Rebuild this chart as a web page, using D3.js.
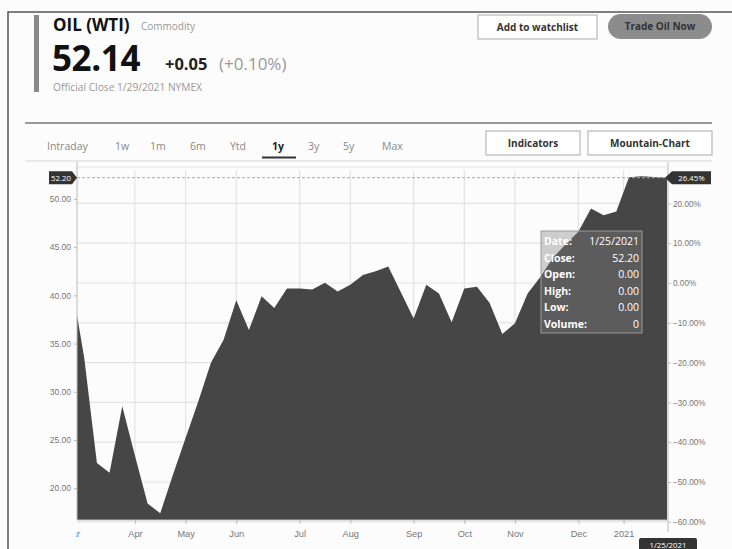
<!DOCTYPE html>
<html>
<head>
<meta charset="utf-8">
<script src="https://cdn.jsdelivr.net/npm/d3@7"></script>
<style>
  html, body { margin: 0; padding: 0; background: #fcfcfc; }
  svg { display: block; font-family: 'Open Sans', 'Noto Sans', sans-serif; }
  .axis text { fill: #777; }
  .axis path, .axis line { stroke: #bbb; }
</style>
</head>
<body>
<div class='container'></div>
<script>
// weekly closes
var weeks = [
  '2020-03-02','2020-03-09','2020-03-16','2020-03-23','2020-03-30',
  '2020-04-06','2020-04-13','2020-04-20','2020-04-27',
  '2020-05-04','2020-05-11','2020-05-18','2020-05-25',
  '2020-06-01','2020-06-08','2020-06-15','2020-06-22','2020-06-29',
  '2020-07-06','2020-07-13','2020-07-20','2020-07-27',
  '2020-08-03','2020-08-10','2020-08-17','2020-08-24','2020-08-31',
  '2020-09-07','2020-09-14','2020-09-21','2020-09-28',
  '2020-10-05','2020-10-12','2020-10-19','2020-10-26',
  '2020-11-02','2020-11-09','2020-11-16','2020-11-23','2020-11-30',
  '2020-12-07','2020-12-14','2020-12-21','2020-12-28',
  '2021-01-04','2021-01-11','2021-01-18','2021-01-25'
]
var closes = [
  41.28, 33.5, 22.6, 21.6, 28.5,
  23.4, 18.4, 17.4, 21.4,
  25.2, 29.0, 33.0, 35.4,
  39.5, 36.4, 39.9, 38.7, 40.7,
  40.7, 40.6, 41.3, 40.4,
  41.1, 42.1, 42.5, 43.0, 40.3,
  37.6, 41.1, 40.2, 37.2,
  40.7, 40.9, 39.2, 36.0,
  37.1, 40.2, 41.9, 43.9, 45.3,
  46.6, 49.0, 48.3, 48.7,
  52.24, 52.36, 52.27, 52.20
]

var monthTicks = ['2020-03-02','2020-04-06','2020-05-04','2020-06-01','2020-07-06','2020-08-03',
  '2020-09-07','2020-10-05','2020-11-02','2020-12-07','2021-01-01']
var monthLabels = ['Mar','Apr','May','Jun','Jul','Aug','Sep','Oct','Nov','Dec','2021']
var priceTicks = [20, 25, 30, 35, 40, 45, 50]
var pctTicks = [-0.6, -0.5, -0.4, -0.3, -0.2, -0.1, 0, 0.1, 0.2]
var tabs = ['Intraday', '1w', '1m', '6m', 'Ytd', '1y', '3y', '5y', 'Max']
var tabX = [47, 115, 150, 190, 230, 272, 308, 343, 382]

var tooltipRows = [['Date:', '1/25/2021'], ['Close:', '52.20'], ['Open:', '0.00'],
  ['High:', '0.00'], ['Low:', '0.00'], ['Volume:', '0']]

var parse = d3.timeParse('%Y-%m-%d')
var data = weeks.map((d, i) => ({date: parse(d), close: closes[i]}))
var last = data[data.length - 1]
var base = closes[0]

var svg = d3.select('.container').append('svg').attr('width', 732).attr('height', 549)

// outer frame
svg.append('path').attr('d', 'M8,549V12H732').attr('fill', 'none').attr('stroke', '#555').attr('stroke-width', 1.5)
svg.append('rect').attr('x', 34).attr('y', 15).attr('width', 5).attr('height', 77).attr('fill', '#8a8a8a')

// header
svg.append('text').text('OIL (WTI)').attr('x', 53).attr('y', 31)
  .attr('font-size', 17).attr('font-weight', 700).attr('fill', '#111')
svg.append('text').text('Commodity').attr('x', 141).attr('y', 30)
  .attr('font-size', 10).attr('fill', '#999')
svg.append('text').text('52.14').attr('x', 52).attr('y', 71)
  .attr('font-size', 35).attr('font-weight', 700).attr('fill', '#111').attr('letter-spacing', -0.4)
svg.append('text').text('+0.05').attr('x', 165).attr('y', 70)
  .attr('font-size', 16.5).attr('font-weight', 700).attr('fill', '#222')
svg.append('text').text('(+0.10%)').attr('x', 219).attr('y', 70)
  .attr('font-size', 17).attr('fill', '#999')
svg.append('text').text('Official Close 1/29/2021 NYMEX').attr('x', 53).attr('y', 90.5)
  .attr('font-size', 10.2).attr('fill', '#999')

function button(x, y, w, h, label, rx, fill){
  var g = svg.append('g')
  g.append('rect').attr('x', x).attr('y', y).attr('width', w).attr('height', h)
    .attr('rx', rx).attr('fill', fill).attr('stroke', rx ? 'none' : '#aaa')
  g.append('text').text(label).attr('x', x + w / 2).attr('y', y + h / 2 + 3.5)
    .attr('text-anchor', 'middle').attr('font-size', 10).attr('font-weight', 700).attr('fill', '#333')
}
button(478, 15, 119, 24, 'Add to watchlist', 0, '#fff')
button(608, 14, 104, 25, 'Trade Oil Now', 12.5, '#8c8c8c')

// tab row
svg.append('line').attr('x1', 25).attr('x2', 712).attr('y1', 123).attr('y2', 123).attr('stroke', '#999').attr('stroke-width', 2)
svg.append('line').attr('x1', 25).attr('x2', 712).attr('y1', 161).attr('y2', 161).attr('stroke', '#e2e2e2').attr('stroke-width', 1.5)
svg.selectAll('text.tab').data(tabs).enter().append('text')
  .attr('class', 'tab').text(d => d)
  .attr('x', (d, i) => tabX[i]).attr('y', 150)
  .attr('font-size', 10.5)
  .attr('font-weight', d => d == '1y' ? 700 : 400)
  .attr('fill', d => d == '1y' ? '#222' : '#888')
svg.append('line').attr('x1', 262).attr('x2', 296).attr('y1', 157.5).attr('y2', 157.5).attr('stroke', '#333').attr('stroke-width', 2)
button(486, 131, 94, 24, 'Indicators', 0, '#fff')
button(588, 131, 124, 24, 'Mountain-Chart', 0, '#fff')

// chart (plotTop, not "top": that one is window.top)
var plotLeft = 77, plotRight = 667, plotTop = 170, plotBottom = 520
var x = d3.scaleTime().domain([parse('2020-03-05'), last.date]).range([plotLeft, plotRight])
var y = d3.scaleLinear().domain([16.7, 53.0]).range([plotBottom, plotTop])
var yPct = d3.scaleLinear().domain(y.domain().map(v => v / base - 1)).range([plotBottom, plotTop])

svg.append('clipPath').attr('id', 'plot').append('rect')
  .attr('x', plotLeft).attr('y', plotTop).attr('width', plotRight - plotLeft).attr('height', plotBottom - plotTop)
svg.append('clipPath').attr('id', 'xlab').append('rect')
  .attr('x', plotLeft - 1).attr('y', -2).attr('width', 700).attr('height', 30)

// grid
var grid = svg.append('g').attr('stroke', '#e3e3e3').attr('stroke-width', 1.2)
grid.selectAll('line.v').data(monthTicks.slice(1)).enter().append('line')
  .attr('x1', d => x(parse(d))).attr('x2', d => x(parse(d)))
  .attr('y1', plotTop).attr('y2', plotBottom)
grid.selectAll('line.h').data(pctTicks).enter().append('line')
  .attr('x1', plotLeft).attr('x2', plotRight)
  .attr('y1', d => yPct(d)).attr('y2', d => yPct(d))
grid.append('line').attr('x1', plotLeft).attr('x2', plotRight).attr('y1', plotTop - 3).attr('y2', plotTop - 3)

var area = d3.area().x(d => x(d.date)).y0(plotBottom).y1(d => y(d.close))
svg.append('path').datum(data).attr('d', area)
  .attr('fill', '#464646').attr('clip-path', 'url(#plot)')

// axes
var yAxis = svg.append('g').attr('class', 'axis').attr('transform', `translate(${plotLeft},0)`)
  .call(d3.axisLeft(y).tickValues(priceTicks).tickFormat(d3.format('.2f')).tickSize(3).tickSizeOuter(0))
yAxis.select('.domain').attr('d', `M0,${plotTop - 8}V${plotBottom}`)
yAxis.selectAll('text').attr('font-size', 8.5)

var rAxis = svg.append('g').attr('class', 'axis').attr('transform', `translate(${plotRight + 1},0)`)
  .call(d3.axisRight(yPct).tickValues(pctTicks).tickFormat(d3.format('.2%')).tickSize(3).tickSizeOuter(0))
rAxis.select('.domain').attr('d', `M0,${plotTop - 8}V${plotBottom + 12}`)
rAxis.selectAll('text').attr('font-size', 8.2).attr('x', 5)

var xAxis = svg.append('g').attr('class', 'axis').attr('transform', `translate(0,${plotBottom})`)
  .attr('clip-path', 'url(#xlab)')
  .call(d3.axisBottom(x).tickValues(monthTicks.map(parse)).tickFormat((d, i) => monthLabels[i]).tickSize(4).tickSizeOuter(0))
xAxis.select('.domain').attr('d', `M${plotLeft},0H${plotRight + 1}`)
xAxis.selectAll('text').attr('font-size', 9.2).attr('dy', '1.05em')

// last value line + labels
var yl = y(last.close)
svg.append('line').attr('x1', plotLeft).attr('x2', plotRight).attr('y1', yl).attr('y2', yl)
  .attr('stroke', '#aaa').attr('stroke-dasharray', '3,2')
svg.append('path').attr('d', `M49,${yl - 6.5}H72L${plotLeft},${yl}L72,${yl + 6.5}H49Z`).attr('fill', '#333')
svg.append('text').text(d3.format('.2f')(last.close)).attr('x', 61).attr('y', yl + 2.8)
  .attr('text-anchor', 'middle').attr('font-size', 7.8).attr('fill', '#fff')
svg.append('path').attr('d', `M711,${yl - 6.5}H672L665,${yl}L672,${yl + 6.5}H711Z`).attr('fill', '#333')
svg.append('text').text(d3.format('.2%')(last.close / base - 1)).attr('x', 691.5).attr('y', yl + 2.8)
  .attr('text-anchor', 'middle').attr('font-size', 7.8).attr('fill', '#fff')

svg.append('rect').attr('x', 639).attr('y', 538).attr('width', 58).attr('height', 13).attr('rx', 2).attr('fill', '#333')
svg.append('text').text(d3.timeFormat('%-m/%-d/%Y')(last.date)).attr('x', 668).attr('y', 547.5)
  .attr('text-anchor', 'middle').attr('font-size', 7.8).attr('fill', '#fff')

// tooltip
var tip = svg.append('g').attr('transform', 'translate(541,231)')
tip.append('rect').attr('width', 101).attr('height', 102)
  .attr('fill', 'rgba(128,128,128,0.38)').attr('stroke', '#9a9a9a')
tip.selectAll('text.k').data(tooltipRows).enter().append('text')
  .text(d => d[0]).attr('x', 3).attr('y', (d, i) => 14 + i * 16.6)
  .attr('font-size', 10.5).attr('font-weight', 700).attr('fill', '#fff')
tip.selectAll('text.v').data(tooltipRows).enter().append('text')
  .text(d => d[1]).attr('x', 98).attr('y', (d, i) => 14 + i * 16.6)
  .attr('text-anchor', 'end').attr('font-size', 10.5).attr('fill', '#fff')
</script>
</body>
</html>
